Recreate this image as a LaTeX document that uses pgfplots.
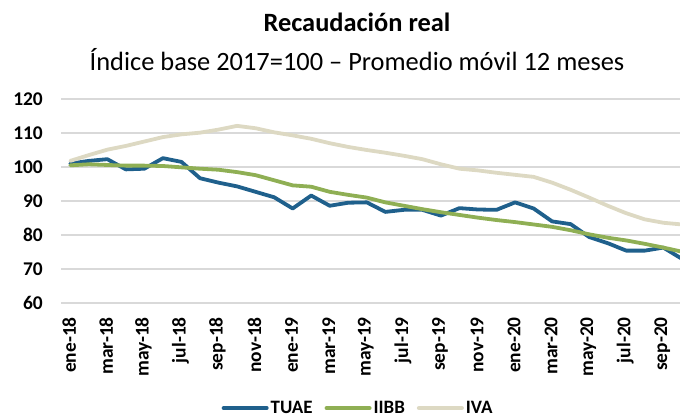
\documentclass[border=0pt]{standalone}
\usepackage{fontspec}
\setmainfont{Carlito}
\usepackage{pgfplots}
\pgfplotsset{compat=1.18}
\definecolor{tuae}{RGB}{31,96,140}
\definecolor{iibb}{RGB}{143,175,84}
\definecolor{iva}{RGB}{221,217,195}
\definecolor{gridc}{RGB}{217,217,217}
\pgfplotstableread{
i tuae iibb iva
0 101.0 100.5 101.8
1 101.8 100.8 103.5
2 102.3 100.6 105.1
3 99.3 100.4 106.2
4 99.5 100.4 107.5
5 102.6 100.3 108.8
6 101.5 99.9 109.6
7 96.7 99.5 110.1
8 95.4 99.2 111.0
9 94.3 98.5 112.1
10 92.7 97.6 111.4
11 91.1 96.1 110.2
12 87.8 94.6 109.3
13 91.6 94.2 108.3
14 88.6 92.7 107.0
15 89.5 91.8 105.9
16 89.6 91.0 105.0
17 86.8 89.6 104.2
18 87.4 88.6 103.3
19 87.4 87.6 102.3
20 85.7 86.7 100.8
21 87.9 85.9 99.5
22 87.5 85.1 99.0
23 87.4 84.4 98.3
24 89.6 83.8 97.7
25 87.8 83.1 97.1
26 84.0 82.4 95.4
27 83.2 81.4 93.3
28 79.4 80.2 91.0
29 77.6 79.2 88.6
30 75.4 78.4 86.4
31 75.4 77.4 84.6
32 76.3 76.3 83.6
33 73.0 75.1 83.1
}\datatable
\begin{document}
\begin{tikzpicture}[x=1bp,y=1bp]
\useasboundingbox (0,0) rectangle (680,419);
\node[font=\fontsize{26.5}{30}\selectfont\bfseries] at (357,397) {Recaudación real};
\node[font=\fontsize{26.5}{30}\selectfont] at (357,359) {Índice base 2017=100 – Promedio móvil 12 meses};
\begin{axis}[
  at={(61bp,116bp)}, anchor=south west,
  width=619bp, height=204bp, scale only axis,
  xmin=-0.5, xmax=32.9, ymin=60, ymax=120,
  ytick={60,70,...,120},
  xtick={0,2,...,32},
  xticklabels={ene-18,mar-18,may-18,jul-18,sep-18,nov-18,ene-19,mar-19,may-19,jul-19,sep-19,nov-19,ene-20,mar-20,may-20,jul-20,sep-20},
  axis line style={draw=none},
  major tick length=0pt,
  ymajorgrids,
  grid style={gridc, line width=1.5bp},
  tick label style={font=\fontsize{19.5}{22}\selectfont\bfseries},
  /pgf/number format/assume math mode=true,
  yticklabel style={inner sep=0pt, xshift=-18bp},
  xticklabel style={inner sep=0pt, rotate=90, anchor=east, yshift=1bp, xshift=-14bp},
  legend columns=3,
  legend style={at={(0.48,-0.515)}, anchor=center, draw=none, fill=none,
    font=\fontsize{19}{22}\selectfont\bfseries,
    /tikz/every even column/.append style={column sep=10bp}},
  legend image code/.code={\draw[#1, line width=4bp] (0bp,0bp) -- (43bp,0bp);},
  every axis plot/.append style={line width=3.8bp, line join=round, line cap=round},
]
\addplot[tuae, mark=none] table[x=i, y=tuae] {\datatable};
\addplot[iibb, mark=none] table[x=i, y=iibb] {\datatable};
\addplot[iva, mark=none] table[x=i, y=iva] {\datatable};
\legend{TUAE, IIBB, IVA}
\end{axis}
\end{tikzpicture}
\end{document}
